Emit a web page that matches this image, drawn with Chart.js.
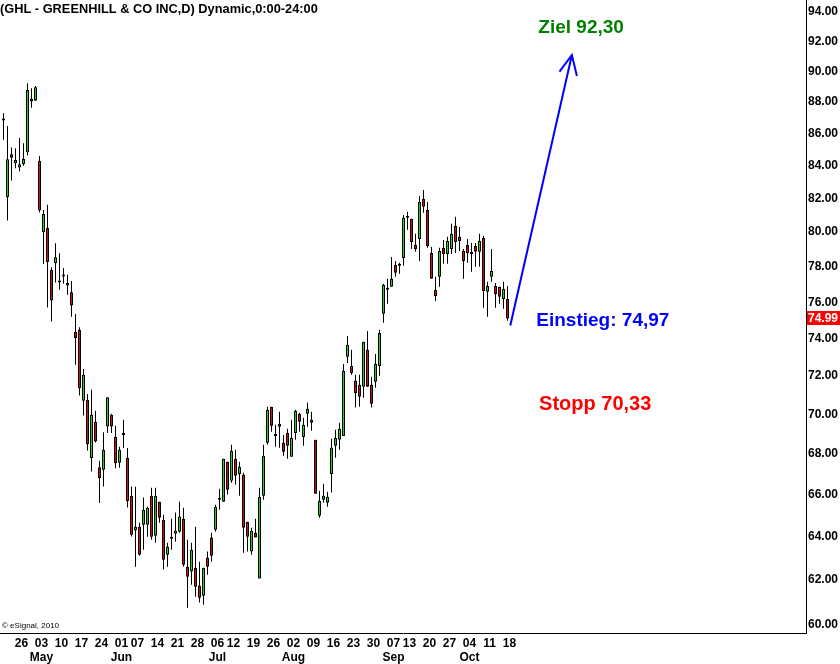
<!DOCTYPE html>
<html>
<head>
<meta charset="utf-8">
<title>GHL - Greenhill & Co Inc</title>
<script src="https://cdn.jsdelivr.net/npm/chart.js@4/dist/chart.umd.min.js"></script>
<style>
    html, body { margin: 0; padding: 0; background: #fff; }
    #wrap { position: relative; width: 840px; height: 664px; }
</style>
</head>
<body>
<div id="wrap"><canvas id="chart"></canvas></div>
<script>
// Daily candles, 20 Apr - 18 Oct 2010, one entry per trading day (index = x)
const highs = [
    87.15, 86.35, 84.99, 84.95, 85.58, 85.26, 89.09, 88.76, 88.91, 84.47,
    81.20, 81.50, 77.86, 79.24, 78.66, 77.81, 77.43, 77.08, 75.23, 74.51,
    72.27, 70.96, 71.17, 70.09, 67.57, 69.00, 70.79, 69.94, 69.32, 68.26,
    69.63, 68.20, 66.31, 66.30, 64.57, 65.77, 65.33, 66.25, 66.25, 65.57,
    64.95, 63.63, 64.76, 65.05, 65.57, 65.28, 63.77, 63.63, 64.38, 62.75,
    62.48, 63.22, 64.10, 65.43, 66.20, 67.67, 67.52, 68.36, 68.11, 67.52,
    66.98, 64.62, 64.33, 64.76, 66.25, 68.36, 70.30, 70.30, 69.37, 70.04,
    68.86, 69.17, 69.63, 70.14, 69.99, 69.73, 70.50, 70.04, 68.61, 66.10,
    66.44, 66.05, 68.66, 69.12, 69.48, 72.53, 74.04, 73.29, 71.96, 71.96,
    73.72, 74.31, 71.85, 73.07, 74.37, 76.92, 77.20, 78.45, 78.22, 78.11,
    80.90, 81.08, 80.67, 79.79, 82.03, 82.39, 81.67, 79.02, 77.31, 78.97,
    79.43, 79.61, 80.37, 80.79, 80.19, 78.91, 79.49, 79.25, 79.25, 79.79,
    79.67, 77.03, 78.91, 76.97, 76.75, 77.03, 76.80
];
const lows = [
    85.47, 80.57, 82.96, 83.71, 83.51, 83.87, 84.49, 87.51, 87.96, 81.04,
    78.04, 75.60, 74.82, 76.99, 76.58, 76.92, 76.30, 75.09, 72.49, 70.87,
    69.85, 68.08, 67.04, 68.48, 65.51, 66.31, 68.95, 68.95, 67.20, 67.22,
    68.20, 65.30, 63.92, 62.52, 63.03, 63.31, 63.91, 63.77, 63.63, 64.57,
    62.39, 62.52, 63.31, 63.68, 64.10, 62.52, 60.67, 61.70, 61.16, 60.90,
    60.81, 62.16, 62.75, 64.15, 65.19, 65.57, 65.91, 66.49, 66.39, 65.86,
    63.17, 63.22, 63.07, 63.87, 61.98, 65.67, 68.36, 69.02, 68.26, 68.21,
    67.82, 67.67, 67.77, 68.61, 69.02, 68.31, 69.27, 69.07, 65.96, 64.81,
    65.52, 65.33, 66.01, 67.72, 68.11, 68.81, 72.59, 71.96, 70.25, 70.30,
    70.76, 71.33, 70.25, 71.28, 71.91, 74.75, 75.80, 76.75, 77.31, 77.48,
    77.94, 80.02, 78.91, 78.74, 78.22, 81.02, 78.97, 77.20, 75.96, 76.75,
    78.05, 78.05, 78.62, 78.68, 78.79, 77.20, 78.11, 77.60, 77.88, 77.88,
    75.58, 75.08, 77.03, 75.58, 75.80, 75.52, 74.86
];
const opens = [
    86.69, 81.95, 84.57, 84.02, 83.75, 83.95, 84.70, 88.08, 87.96, 84.16,
    79.88, 80.12, 77.71, 78.09, 76.99, 77.33, 76.82, 76.45, 74.25, 74.37,
    70.61, 70.65, 67.70, 69.51, 67.25, 67.12, 69.29, 69.88, 68.75, 67.47,
    68.85, 67.70, 65.86, 64.21, 64.38, 64.47, 64.47, 65.86, 63.96, 65.57,
    64.71, 63.07, 63.82, 64.05, 64.15, 64.76, 62.52, 62.30, 62.48, 61.66,
    61.21, 62.94, 63.87, 64.24, 65.67, 65.57, 67.52, 66.58, 67.67, 66.92,
    66.88, 64.62, 63.22, 64.10, 61.98, 65.86, 68.46, 70.30, 68.81, 69.42,
    68.46, 68.96, 67.77, 68.96, 69.94, 68.76, 69.94, 69.48, 68.61, 64.90,
    65.67, 65.52, 66.92, 68.31, 68.61, 68.81, 72.91, 72.43, 71.64, 71.43,
    71.33, 73.29, 71.43, 71.59, 72.43, 75.25, 76.58, 76.75, 78.00, 77.94,
    78.39, 80.73, 80.67, 79.14, 79.49, 81.85, 81.20, 78.68, 76.58, 77.31,
    78.97, 78.62, 78.91, 80.25, 79.61, 78.79, 79.14, 78.62, 79.08, 78.74,
    79.55, 76.47, 77.31, 76.80, 76.75, 76.07, 76.07
];
const closes = [
    86.69, 84.26, 84.36, 84.22, 83.95, 84.28, 88.65, 87.90, 88.83, 81.16,
    80.95, 78.15, 75.98, 78.43, 76.99, 77.33, 76.97, 75.70, 73.92, 71.26,
    71.96, 68.40, 69.88, 68.53, 66.71, 68.11, 70.79, 69.29, 67.45, 68.11,
    68.85, 65.59, 64.00, 64.38, 63.07, 65.19, 65.28, 63.91, 65.86, 64.81,
    62.84, 63.45, 63.82, 64.19, 64.86, 62.61, 62.06, 63.31, 61.61, 61.12,
    62.48, 62.52, 63.03, 65.33, 65.67, 67.67, 66.15, 68.06, 66.83, 67.27,
    64.33, 63.91, 64.19, 63.87, 65.81, 67.82, 70.14, 69.32, 68.81, 69.27,
    68.01, 68.31, 68.71, 70.09, 69.53, 69.37, 70.19, 69.63, 65.96, 65.62,
    65.86, 65.81, 68.21, 68.71, 69.17, 72.17, 73.56, 72.06, 71.01, 70.81,
    73.72, 71.33, 70.45, 72.53, 74.21, 76.86, 76.58, 77.20, 77.54, 77.94,
    80.73, 80.73, 79.31, 78.91, 81.67, 81.38, 79.08, 77.20, 76.24, 78.79,
    78.62, 79.37, 79.79, 79.31, 79.37, 78.22, 78.68, 78.62, 78.74, 79.37,
    76.52, 76.80, 77.65, 76.35, 76.19, 76.63, 74.99
];

// x axis: trading-day index of each week start, and its label
const weekIdx = [4, 9, 14, 19, 24, 29, 33, 38, 43, 48, 53, 57, 62, 67, 72, 77, 82, 87, 92, 97, 101, 106, 111, 116, 121, 126];
const weekLabels = ['26', '03', '10', '17', '24', '01', '07', '14', '21', '28', '06', '12', '19', '26', '02', '09', '16', '23', '30', '07', '13', '20', '27', '04', '11', '18'];
const monthIdx = [9, 29, 53, 72, 97, 116];
const monthLabels = ['May', 'Jun', 'Jul', 'Aug', 'Sep', 'Oct'];

// y axis (log scale)
const yTicks = [60, 62, 64, 66, 68, 70, 72, 74, 76, 78, 80, 82, 84, 86, 88, 90, 92, 94];

// drawn target arrow (trading-day index, price)
const arrowX = [126.7, 142.1];
const arrowY = [74.6, 90.95];
const headX = [139.0, 142.1, 143.35];
const headY = [89.85, 90.95, 89.57];

// text notes
const noteTexts = ['Ziel 92,30', 'Einstieg: 74,97', 'Stopp 70,33'];
const noteX = [133.7, 133.2, 133.9];
const noteY = [92.75, 74.86, 70.40];
const noteColors = ['#008000', '#0000ff', '#ff0000'];
const noteSizes = [19, 19, 20];

const FONT = '"Liberation Sans", Arial, sans-serif';
const UP = '#20d020';
const DOWN = '#d01010';

const bodyColors = opens.map((o, i) => closes[i] > o ? UP : (closes[i] < o ? DOWN : '#000'));

const overlayPlugin = {
    id: 'overlay',
    afterDraw(chart) {
        const { ctx, scales: { x, y } } = chart;
        ctx.save();
        ctx.textBaseline = 'middle';
        ctx.textAlign = 'left';

        noteTexts.forEach((t, i) => {
            ctx.font = 'bold ' + noteSizes[i] + 'px ' + FONT;
            ctx.fillStyle = noteColors[i];
            ctx.fillText(t, x.getPixelForValue(noteX[i]), y.getPixelForValue(noteY[i]));
        });

        ctx.fillStyle = '#000';
        ctx.font = 'bold 12.8px ' + FONT;
        ctx.fillText('(GHL - GREENHILL & CO INC,D) Dynamic,0:00-24:00', 0, 9);

        ctx.font = '8px ' + FONT;
        ctx.fillText('\u00a9 eSignal, 2010', 2, 626);

        // last price box on the axis
        const last = closes[closes.length - 1];
        const py = Math.round(y.getPixelForValue(last));
        ctx.fillStyle = '#ff0000';
        ctx.fillRect(y.left + 1, py - 7, 840 - y.left, 14);
        ctx.fillStyle = '#fff';
        ctx.font = 'bold 12px ' + FONT;
        ctx.fillText(last.toFixed(2), y.left + 2, py + 1);
        ctx.restore();
    }
};

new Chart(document.getElementById('chart'), {
    type: 'bar',
    data: {
        datasets: [
            {
                label: 'body',
                data: opens.map((o, i) => ({ x: i, y: [o, closes[i]] })),
                backgroundColor: bodyColors,
                borderColor: '#000',
                borderWidth: 1,
                borderSkipped: false,
                barThickness: 3,
                minBarLength: 2,
                inflateAmount: 0,
                grouped: false,
            },
            {
                label: 'wick',
                data: lows.map((l, i) => ({ x: i, y: [l, highs[i]] })),
                backgroundColor: '#000',
                borderWidth: 0,
                barThickness: 1,
                inflateAmount: 0,
                grouped: false,
            },
            {
                type: 'line',
                label: 'arrow',
                data: arrowX.map((v, i) => ({ x: v, y: arrowY[i] })),
                borderColor: '#0000ff',
                borderWidth: 2,
                pointRadius: 0,
            },
            {
                type: 'line',
                label: 'head',
                data: headX.map((v, i) => ({ x: v, y: headY[i] })),
                borderColor: '#0000ff',
                borderWidth: 2,
                pointRadius: 0,
            },
        ],
    },
    options: {
        responsive: true,
        maintainAspectRatio: false,
        animation: false,
        layout: { padding: 0, autoPadding: false },
        plugins: {
            legend: { display: false },
            tooltip: { enabled: false },
        },
        scales: {
            x: {
                type: 'linear',
                bounds: 'data',
                offset: false,
                min: -0.875,
                max: 200.625,
                grid: { display: false, drawTicks: false, offset: false },
                border: { display: true, color: '#000', width: 1 },
                afterBuildTicks: (scale) => {
                    scale.ticks = weekIdx.map(v => ({ value: v }));
                },
                afterFit: (scale) => {
                    scale.height = 31;
                    scale.paddingLeft = 0;
                    scale.paddingRight = 0;
                },
                ticks: {
                    autoSkip: false,
                    maxRotation: 0,
                    minRotation: 0,
                    padding: 3,
                    labelOffset: 2,
                    color: '#000',
                    font: { family: FONT, size: 12, weight: 'bold' },
                    callback: (v) => {
                        const k = weekIdx.indexOf(v);
                        const m = monthIdx.indexOf(v);
                        return m >= 0 ? [weekLabels[k], monthLabels[m]] : weekLabels[k];
                    },
                },
            },
            y: {
                type: 'logarithmic',
                position: 'right',
                bounds: 'data',
                min: 59.56,
                max: 94.69,
                grid: { display: false, drawTicks: false },
                border: { display: true, color: '#000', width: 1 },
                afterBuildTicks: (scale) => {
                    scale.ticks = yTicks.map(v => ({ value: v }));
                },
                afterFit: (scale) => {
                    scale.width = 34;
                    scale.paddingTop = 0;
                    scale.paddingBottom = 0;
                },
                ticks: {
                    autoSkip: false,
                    padding: 2,
                    labelOffset: 2,
                    color: '#000',
                    font: { family: FONT, size: 12, weight: 'bold' },
                    callback: (v) => Number(v).toFixed(2),
                },
            },
        },
    },
    plugins: [overlayPlugin],
});
</script>
</body>
</html>
